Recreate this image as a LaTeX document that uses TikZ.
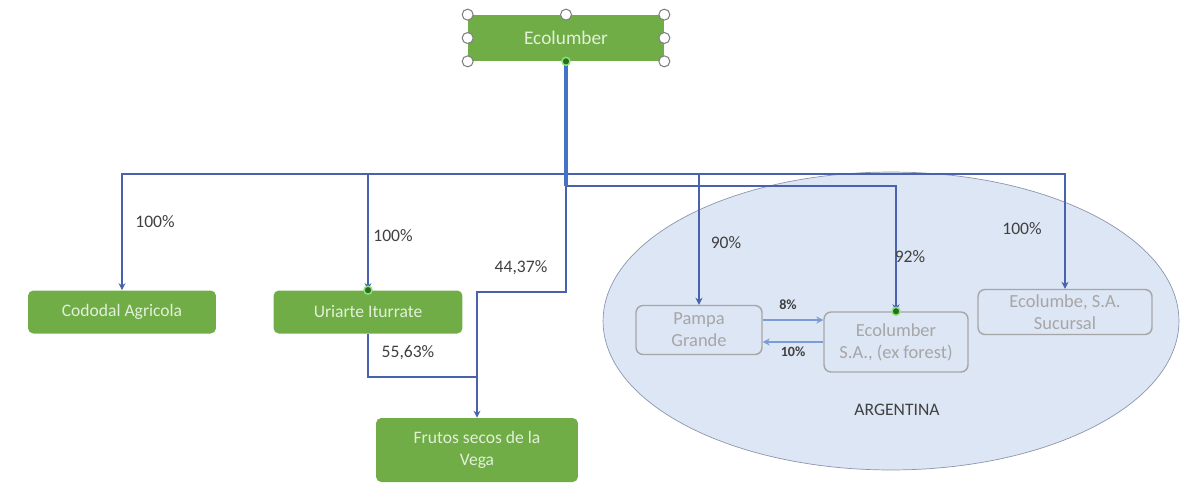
\documentclass[tikz,border=0pt]{standalone}
\usepackage{fontspec}
\setmainfont{Carlito}
\usetikzlibrary{arrows.meta}
\definecolor{leaf}{HTML}{70AD47}
\definecolor{leaftext}{HTML}{E2F0D9}
\definecolor{wire}{HTML}{4A62AE}
\definecolor{wirethick}{HTML}{4472C4}
\definecolor{land}{HTML}{DDE6F4}
\definecolor{landline}{HTML}{8C96AE}
\definecolor{ghost}{HTML}{A6A6A6}
\definecolor{pindark}{HTML}{2E6B1E}
\begin{document}
\begin{tikzpicture}[x=0.02cm, y=-0.02cm,
  firm/.style={fill=leaf, text=leaftext, rounded corners=3pt, inner sep=0pt, align=center, font=\fontsize{10}{12.5}\selectfont},
  ghostbox/.style={draw=ghost, fill=land, text=ghost, rounded corners=4pt, inner sep=0pt, align=center, line width=0.8pt, font=\fontsize{10.5}{12.5}\selectfont},
  link/.style={draw=wire, line width=0.8pt, -{Stealth[length=4pt,width=4pt]}},
  pct/.style={text=black!75, font=\fontsize{10}{12}\selectfont},
  handle/.style={draw=gray, fill=white, line width=0.6pt},
  pin/.style={fill=pindark, draw=green!50!leaf!60!white, line width=0.8pt}]
            \useasboundingbox (0, 0) rectangle (1182, 490);
            \draw[fill=land, draw=landline] (891, 321) ellipse (5.76cm and 2.98cm);
            \node[firm, minimum width=3.92cm, minimum height=0.92cm, font=\fontsize{11}{13}\selectfont] (eco) at (566, 38) {Ecolumber};
            \node[firm, minimum width=3.76cm, minimum height=0.86cm] (cod) at (122, 312) {Cododal Agricola};
            \node[firm, minimum width=3.78cm, minimum height=0.86cm] (uri) at (368, 312) {Uriarte Iturrate};
            \node[firm, minimum width=4.04cm, minimum height=1.28cm] (fru) at (477, 450) {Frutos secos de la\\Vega};
            \node[ghostbox, minimum width=2.52cm, minimum height=0.98cm] (pam) at (699, 330) {Pampa\\Grande};
            \node[ghostbox, minimum width=2.88cm, minimum height=1.2cm] (exf) at (896, 342) {Ecolumber\\S.A., (ex forest)};
            \node[ghostbox, minimum width=3.48cm, minimum height=0.9cm] (suc) at (1065, 312) {Ecolumbe, S.A.\\Sucursal};
            \path (566, 174) coordinate (bus);
            \path (566, 186) coordinate (bus2);
            \path (566, 292) coordinate (bend);
            \path (fru.north |- 0, 377) coordinate (join);
            \draw[wire, line width=0.8pt] (bus) -- (bus2);
            \draw[link] (bus) -| (cod.north);
            \draw[link] (bus) -| (uri.north);
            \draw[link] (bus) -| (pam.north);
            \draw[link] (bus) -| (suc.north);
            \draw[link] (bus2) -| (exf.north);
            \draw[link] (bus2) -- (bend) -| (fru.north);
            \draw[draw=wire, line width=0.8pt] (uri.south) |- (join);
            \draw[link, draw=wirethick!70] (pam.east |- 0, 320) -- (exf.west |- 0, 320);
            \draw[link, draw=wirethick!70] (exf.west |- 0, 342) -- (pam.east |- 0, 342);
            \draw[wirethick, line width=2.4pt] (eco.south) -- (bus2);
            \node[pct] at (155, 222) {100\%};
            \node[pct] at (393, 236) {100\%};
            \node[pct] at (521, 268) {44,37\%};
            \node[pct] at (408, 353) {55,63\%};
            \node[pct] at (726, 243) {90\%};
            \node[pct] at (910, 257) {92\%};
            \node[pct] at (1022, 229) {100\%};
            \node[pct, font=\fontsize{8}{10}\selectfont\bfseries] at (788, 305) {8\%};
            \node[pct, font=\fontsize{8}{10}\selectfont\bfseries] at (793, 352) {10\%};
            \node[pct, font=\fontsize{10}{12}\selectfont] at (897, 410) {ARGENTINA};
            \foreach \a in {north west, north, north east, west, east, south west, south east}
                \draw[handle] (eco.\a) circle (0.11cm);
            \filldraw[pin] (eco.south) circle (0.08cm);
            \filldraw[pin] (uri.north) circle (0.08cm);
            \filldraw[pin] (exf.north) circle (0.08cm);
        \end{tikzpicture}
\end{document}
